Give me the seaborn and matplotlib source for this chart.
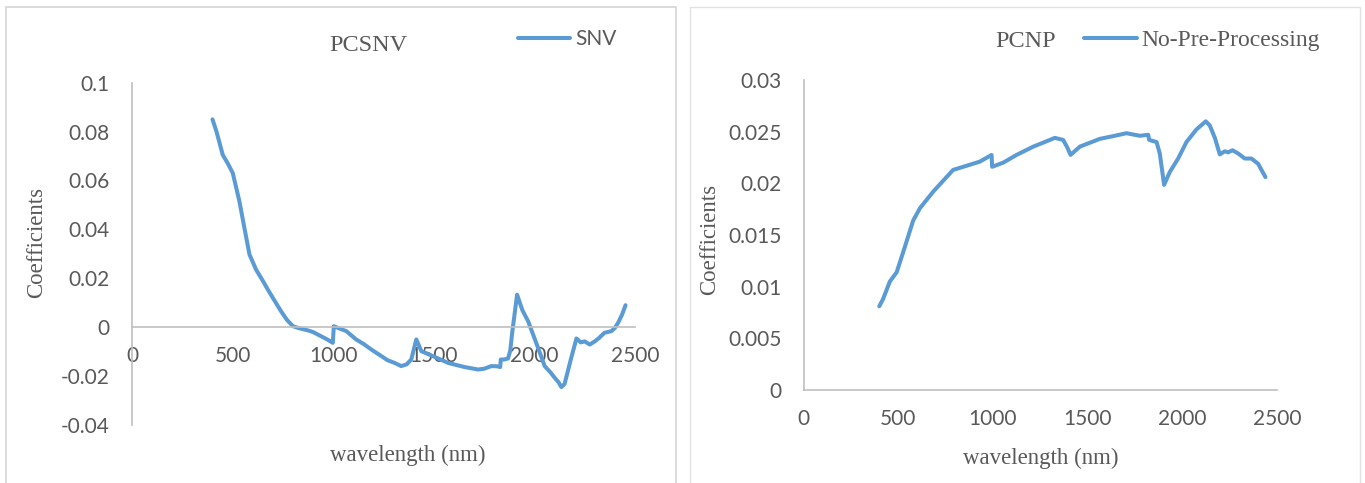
import matplotlib
matplotlib.use('Agg')
import matplotlib.pyplot as plt
import matplotlib.patches as patches
import seaborn as sns
import pandas as pd

# SNV coefficients (left panel)
wl_snv = [400, 420, 451, 476, 501, 534, 560, 584, 617, 650, 675, 700, 741, 770, 800,
          830, 874, 900, 940, 970, 998, 1003, 1030, 1065, 1114, 1150, 1189, 1239, 1270,
          1305, 1338, 1365, 1388, 1413, 1438, 1500, 1571, 1653, 1720, 1750, 1786, 1815,
          1830, 1833, 1850, 1869, 1880, 1890, 1914, 1940, 1969, 2018, 2051, 2080, 2101,
          2120, 2134, 2150, 2180, 2209, 2230, 2250, 2275, 2300, 2320, 2348, 2383, 2400,
          2416, 2435, 2453]
coef_snv = [0.0850, 0.0800, 0.0705, 0.0670, 0.0630, 0.0514, 0.0400, 0.0297, 0.0235,
            0.0190, 0.0154, 0.0120, 0.0065, 0.0030, 0.0004, -0.0004, -0.0013, -0.0020,
            -0.0037, -0.0050, -0.0064, 0.0004, -0.0005, -0.0016, -0.0050, -0.0068,
            -0.0091, -0.0118, -0.0135, -0.0146, -0.0159, -0.0152, -0.0132, -0.0050,
            -0.0098, -0.0120, -0.0146, -0.0163, -0.0173, -0.0170, -0.0159, -0.0160,
            -0.0163, -0.0132, -0.0132, -0.0128, -0.0095, -0.0020, 0.0133, 0.0070,
            0.0024, -0.0084, -0.0159, -0.0185, -0.0207, -0.0225, -0.0245, -0.0232,
            -0.0135, -0.0046, -0.0062, -0.0058, -0.0071, -0.0058, -0.0045, -0.0023,
            -0.0016, -0.0003, 0.0018, 0.0050, 0.0090]

# no pre-processing coefficients (right panel)
wl_np = [400, 420, 456, 492, 536, 579, 615, 650, 685, 740, 790, 861, 931, 993, 996,
         1054, 1125, 1213, 1274, 1327, 1371, 1392, 1410, 1459, 1564, 1630, 1705, 1776,
         1820, 1825, 1864, 1881, 1904, 1934, 1978, 2022, 2074, 2124, 2145, 2172, 2198,
         2224, 2242, 2265, 2294, 2330, 2365, 2400, 2439]
coef_np = [0.0081, 0.0088, 0.0105, 0.0114, 0.0139, 0.0164, 0.0176, 0.0184, 0.0192,
           0.0203, 0.0213, 0.0217, 0.0221, 0.02275, 0.0216, 0.0220, 0.02275, 0.02355,
           0.0240, 0.0244, 0.0242, 0.0235, 0.02275, 0.02355, 0.0243, 0.02455, 0.02485,
           0.0246, 0.0247, 0.0242, 0.0240, 0.0229, 0.01985, 0.0211, 0.0224, 0.0240,
           0.0252, 0.0260, 0.0256, 0.0244, 0.0228, 0.0231, 0.0230, 0.0232, 0.0229,
           0.0224, 0.0224, 0.0219, 0.0206]

x_ticks = [0, 500, 1000, 1500, 2000, 2500]
snv_yticks = [0.1, 0.08, 0.06, 0.04, 0.02, 0, -0.02, -0.04]
snv_ylabels = ['0.1', '0.08', '0.06', '0.04', '0.02', '0', '-0.02', '-0.04']
np_yticks = [0.03, 0.025, 0.02, 0.015, 0.01, 0.005, 0]
np_ylabels = ['0.03', '0.025', '0.02', '0.015', '0.01', '0.005', '0']

blue = '#5B9BD5'
grey_txt = '#595959'
axis_col = '#BFBFBF'

sns.set_style('white')
plt.rcParams['font.family'] = ['Lato', 'DejaVu Sans']
serif = ['Liberation Serif', 'DejaVu Serif']

fig = plt.figure(figsize=(13.65, 4.83), dpi=100)
W, H = 1365, 483

# panel frames
fig.patches.append(patches.Rectangle((6 / W, -0.1), 670 / W, (483 - 7) / H + 0.1,
                                     transform=fig.transFigure, fill=False,
                                     edgecolor='#d4d4d4', lw=1.2))
fig.patches.append(patches.Rectangle((690 / W, -0.1), 670 / W, (483 - 7) / H + 0.1,
                                     transform=fig.transFigure, fill=False,
                                     edgecolor='#e2e2e2', lw=1.0))

ax1 = fig.add_axes([132 / W, 1 - 425 / H, 503 / W, (425 - 82.7) / H])
ax2 = fig.add_axes([803.5 / W, 1 - 390 / H, 473.5 / W, 310 / H])

df1 = pd.DataFrame({'wavelength': wl_snv, 'coef': coef_snv})
df2 = pd.DataFrame({'wavelength': wl_np, 'coef': coef_np})
sns.lineplot(data=df1, x='wavelength', y='coef', ax=ax1, color=blue, lw=2.9,
             estimator=None, label='SNV')
sns.lineplot(data=df2, x='wavelength', y='coef', ax=ax2, color=blue, lw=2.9,
             estimator=None, label='No-Pre-Processing')

ax1.set_xlim(0, 2500)
ax1.set_ylim(-0.04, 0.1)
ax2.set_xlim(0, 2500)
ax2.set_ylim(0, 0.03)

for ax in (ax1, ax2):
    ax.set_facecolor('none')
    ax.spines['top'].set_visible(False)
    ax.spines['right'].set_visible(False)
    for s in ('left', 'bottom'):
        ax.spines[s].set_color(axis_col)
        ax.spines[s].set_linewidth(1.2)
    ax.set_xticks(x_ticks)
    ax.set_xticklabels([str(t) for t in x_ticks])
    ax.tick_params(axis='both', length=0, labelsize=15, labelcolor=grey_txt)
    ax.tick_params(axis='x', pad=13.5)
    ax.tick_params(axis='y', pad=16)
    ax.set_xlabel('wavelength (nm)', fontsize=16.5, color=grey_txt, family=serif)
    ax.set_ylabel('Coefficients', fontsize=16.5, color=grey_txt, family=serif)

ax1.spines['bottom'].set_position(('data', 0))
ax1.set_yticks(snv_yticks)
ax1.set_yticklabels(snv_ylabels)
ax2.set_yticks(np_yticks)
ax2.set_yticklabels(np_ylabels)

ax1.xaxis.set_label_coords(0.549, -0.058)
ax1.yaxis.set_label_coords(-0.169, 0.532)
ax2.xaxis.set_label_coords(0.5016, -0.187)
ax2.yaxis.set_label_coords(-0.176, 0.485)

ax1.set_title('PCSNV', fontsize=17.5, color=grey_txt, family=serif, x=0.469, y=1.110,
              va='center', pad=0)
ax2.set_title('PCNP', fontsize=17.5, color=grey_txt, family=serif, x=0.47, y=1.124,
              va='center', pad=0)

leg1 = ax1.legend(loc='center left', bbox_to_anchor=(0.767, 1.127), frameon=False,
                  borderpad=0, borderaxespad=0, handlelength=2.5, handletextpad=0.25,
                  fontsize=15)
for t in leg1.get_texts():
    t.set_color(grey_txt)
leg2 = ax2.legend(loc='center left', bbox_to_anchor=(0.592, 1.128), frameon=False,
                  borderpad=0, borderaxespad=0, handlelength=2.25, handletextpad=0.17,
                  prop={'family': serif, 'size': 17})
for t in leg2.get_texts():
    t.set_color(grey_txt)

fig.savefig('out.png', dpi=100)
